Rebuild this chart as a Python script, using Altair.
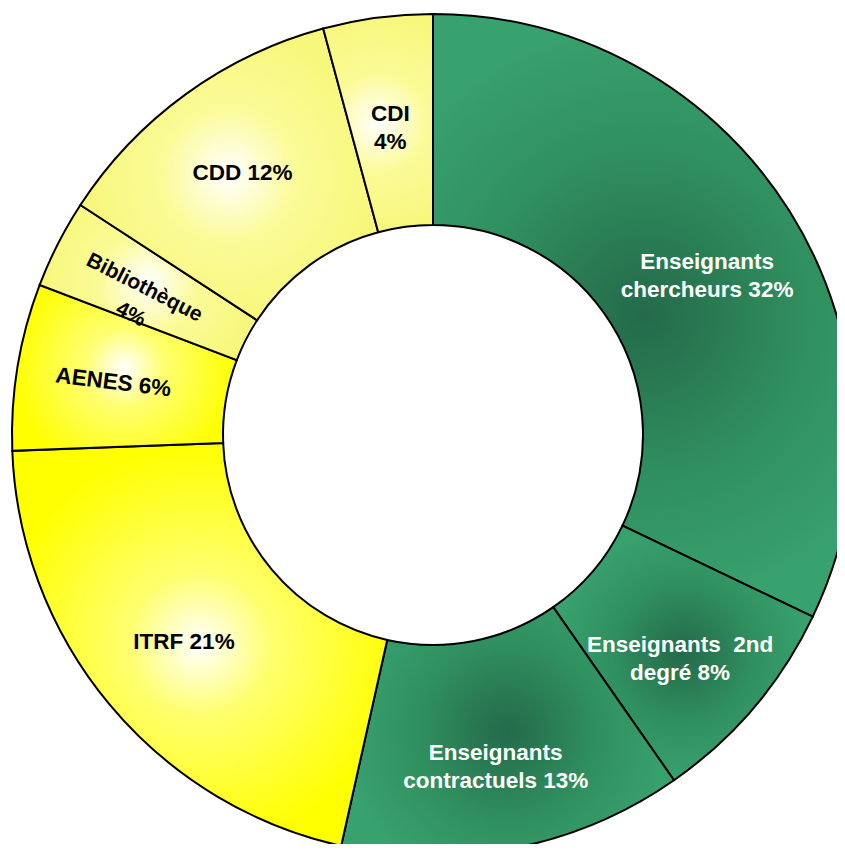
import math
import altair as alt
import pandas as pd

# ---- data ----
categories = [
    "Enseignants chercheurs",
    "Enseignants 2nd degré",
    "Enseignants contractuels",
    "ITRF",
    "AENES",
    "Bibliothèque",
    "CDD",
    "CDI",
]
shares = [32.1, 8.2, 13.2, 20.9, 6.4, 3.4, 11.6, 4.2]
labels = [
    "Enseignants\nchercheurs 32%",
    "Enseignants\u00a0 2nd\ndegré 8%",
    "Enseignants\ncontractuels 13%",
    "ITRF 21%",
    "AENES 6%",
    "Bibliothèque\n4%",
    "CDD 12%",
    "CDI\n4%",
]
families = ["Enseignants"] * 3 + ["Titulaires"] * 2 + ["Autres"] * 3

df = pd.DataFrame({
    "cat": categories,
    "share": shares,
    "label": labels,
    "family": families,
    "idx": list(range(len(categories))),
})

# ---- geometry / style ----
CX, CY = 425, 427          # ring centre inside the plot area
R_OUT, R_IN = 421, 210
LR = 324                   # label radius
TWO_PI = 2 * math.pi

green_fill = {
    "gradient": "radial", "x1": 0.5, "y1": 0.5, "r1": 0,
    "x2": 0.5, "y2": 0.5, "r2": 0.5,
    "stops": [{"offset": 0, "color": "#246a4a"},
              {"offset": 0.55, "color": "#30905f"},
              {"offset": 1, "color": "#38a26e"}],
}
yellow_fill = {
    "gradient": "radial", "x1": 0.5, "y1": 0.5, "r1": 0,
    "x2": 0.5, "y2": 0.5, "r2": 0.5,
    "stops": [{"offset": 0, "color": "#ffffff"},
              {"offset": 0.35, "color": "#ffff70"},
              {"offset": 1, "color": "#ffff00"}],
}
pale_fill = {
    "gradient": "radial", "x1": 0.5, "y1": 0.5, "r1": 0,
    "x2": 0.5, "y2": 0.5, "r2": 0.5,
    "stops": [{"offset": 0, "color": "#ffffff"},
              {"offset": 0.45, "color": "#fbfb98"},
              {"offset": 1, "color": "#f7f77c"}],
}

theta_scale = alt.Scale(domain=[0, 100], range=[0, TWO_PI])

base = (
    alt.Chart(df)
    .transform_window(cum="sum(share)", sort=[alt.SortField("idx")], frame=[None, 0])
    .transform_calculate(
        t0="datum.cum - datum.share",
        mid=f"(datum.cum - datum.share / 2) / 100 * {TWO_PI}",
    )
    .transform_calculate(
        lx=f"{CX} + {LR} * sin(datum.mid)",
        ly=f"{CY} - {LR} * cos(datum.mid)",
    )
)


def ring(family, fill):
    return (
        base.transform_filter(alt.datum.family == family)
        .mark_arc(outerRadius=R_OUT, innerRadius=R_IN, stroke="black",
                  strokeWidth=2, fill=fill)
        .encode(
            theta=alt.Theta("t0:Q", stack=None, scale=theta_scale),
            theta2="cum:Q",
            x=alt.value(CX),
            y=alt.value(CY),
        )
    )


def text_layer(filter_expr, color, angle, size=22.5, line_height=28):
    return (
        base.transform_filter(filter_expr)
        .mark_text(font="Liberation Sans", fontWeight="bold", fontSize=size,
                   lineHeight=line_height, lineBreak="\n", align="center",
                   baseline="middle", color=color, angle=angle)
        .encode(
            x=alt.X("lx:Q", scale=None, axis=None),
            y=alt.Y("ly:Q", scale=None, axis=None),
            text="label:N",
        )
    )


chart = alt.layer(
    ring("Enseignants", green_fill),
    ring("Titulaires", yellow_fill),
    ring("Autres", pale_fill),
    text_layer("datum.family == 'Enseignants'", "white", 0),
    text_layer("datum.family != 'Enseignants' && datum.cat != 'Bibliothèque' && datum.cat != 'AENES'", "black", 0),
    text_layer("datum.cat == 'AENES'", "black", 7),
    text_layer("datum.cat == 'Bibliothèque'", "black", 27, size=21, line_height=30),
).properties(
    width=829, height=836,
    autosize=alt.AutoSizeParams(type="none"),
    padding=0,
    background="white",
).configure_view(stroke=None)

chart.save("out.html", embed_options={"renderer": "svg", "actions": False})
